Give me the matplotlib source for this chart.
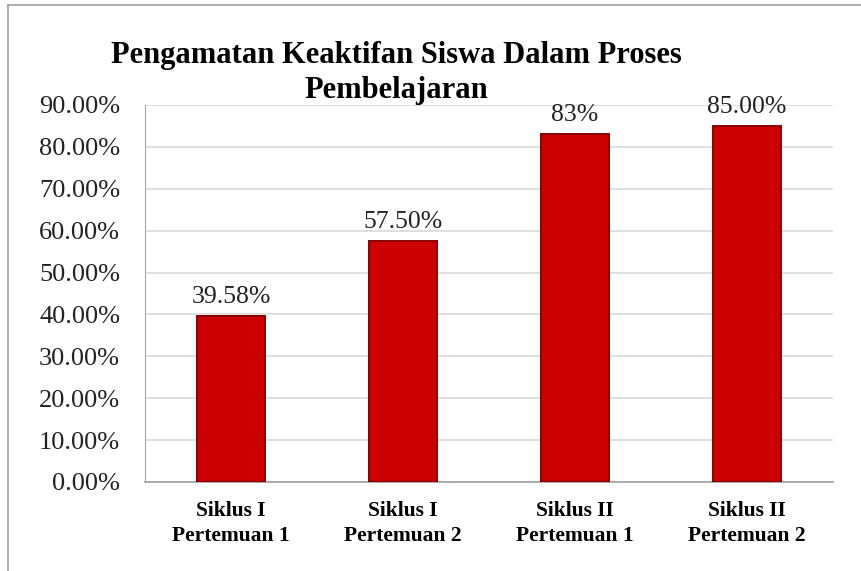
import matplotlib
matplotlib.use("Agg")
import matplotlib.pyplot as plt
from matplotlib.lines import Line2D

categories = ["Siklus I\nPertemuan 1", "Siklus I\nPertemuan 2", "Siklus II\nPertemuan 1", "Siklus II\nPertemuan 2"]
values = [39.58, 57.50, 83.0, 85.00]
value_labels = ["39.58%", "57.50%", "83%", "85.00%"]
yticks = [0, 10, 20, 30, 40, 50, 60, 70, 80, 90]
title_lines = ["Pengamatan Keaktifan Siswa Dalam Proses", "Pembelajaran"]

plt.rcParams['font.family'] = ['Liberation Serif', 'DejaVu Serif']

W, H = 861, 571
fig = plt.figure(figsize=(W/100, H/100), dpi=100)
ax = fig.add_axes([145/W, 1-482/H, (833-145)/W, (482-105)/H])

x = list(range(len(categories)))
ax.bar(x, values, width=0.39, color='#CC0000', edgecolor='#8A0000', linewidth=1.4, zorder=3)
for xi, v, lab in zip(x, values, value_labels):
    ax.text(xi, v + 2.0, lab, ha='center', va='bottom', fontsize=18.5, color='#222222')

ax.set_ylim(0, 90)
ax.set_xlim(-0.5, 3.5)
ax.set_yticks(yticks)
ax.set_yticklabels([f"{t:.2f}%" for t in yticks], fontsize=19, color='#222222')
ax.set_xticks(x)
ax.set_xticklabels(categories, fontsize=15.5, fontweight='bold', linespacing=1.3)
ax.tick_params(axis='y', length=0, pad=18)
ax.tick_params(axis='x', length=0, pad=14)
ax.grid(axis='y', color='#D9D9D9', linewidth=1.2, zorder=0)
for s in ['top', 'right']:
    ax.spines[s].set_visible(False)
ax.spines['left'].set_color('#A6A6A6')
ax.spines['bottom'].set_color('#A6A6A6')
ax.spines['bottom'].set_linewidth(1.3)

fig.text(396.5/W, 1-63/H, title_lines[0], ha='center', va='baseline', fontsize=22, fontweight='bold')
fig.text(396.5/W, 1-98/H, title_lines[1], ha='center', va='baseline', fontsize=22, fontweight='bold')

# outer chart border (left and top)
fig.add_artist(Line2D([8/W, 8/W], [0, 1-5/H], color='#A0A0A0', linewidth=1.2, transform=fig.transFigure))
fig.add_artist(Line2D([8/W, 1], [1-5/H, 1-5/H], color='#A0A0A0', linewidth=1.2, transform=fig.transFigure))

fig.savefig("out.png", dpi=100)
